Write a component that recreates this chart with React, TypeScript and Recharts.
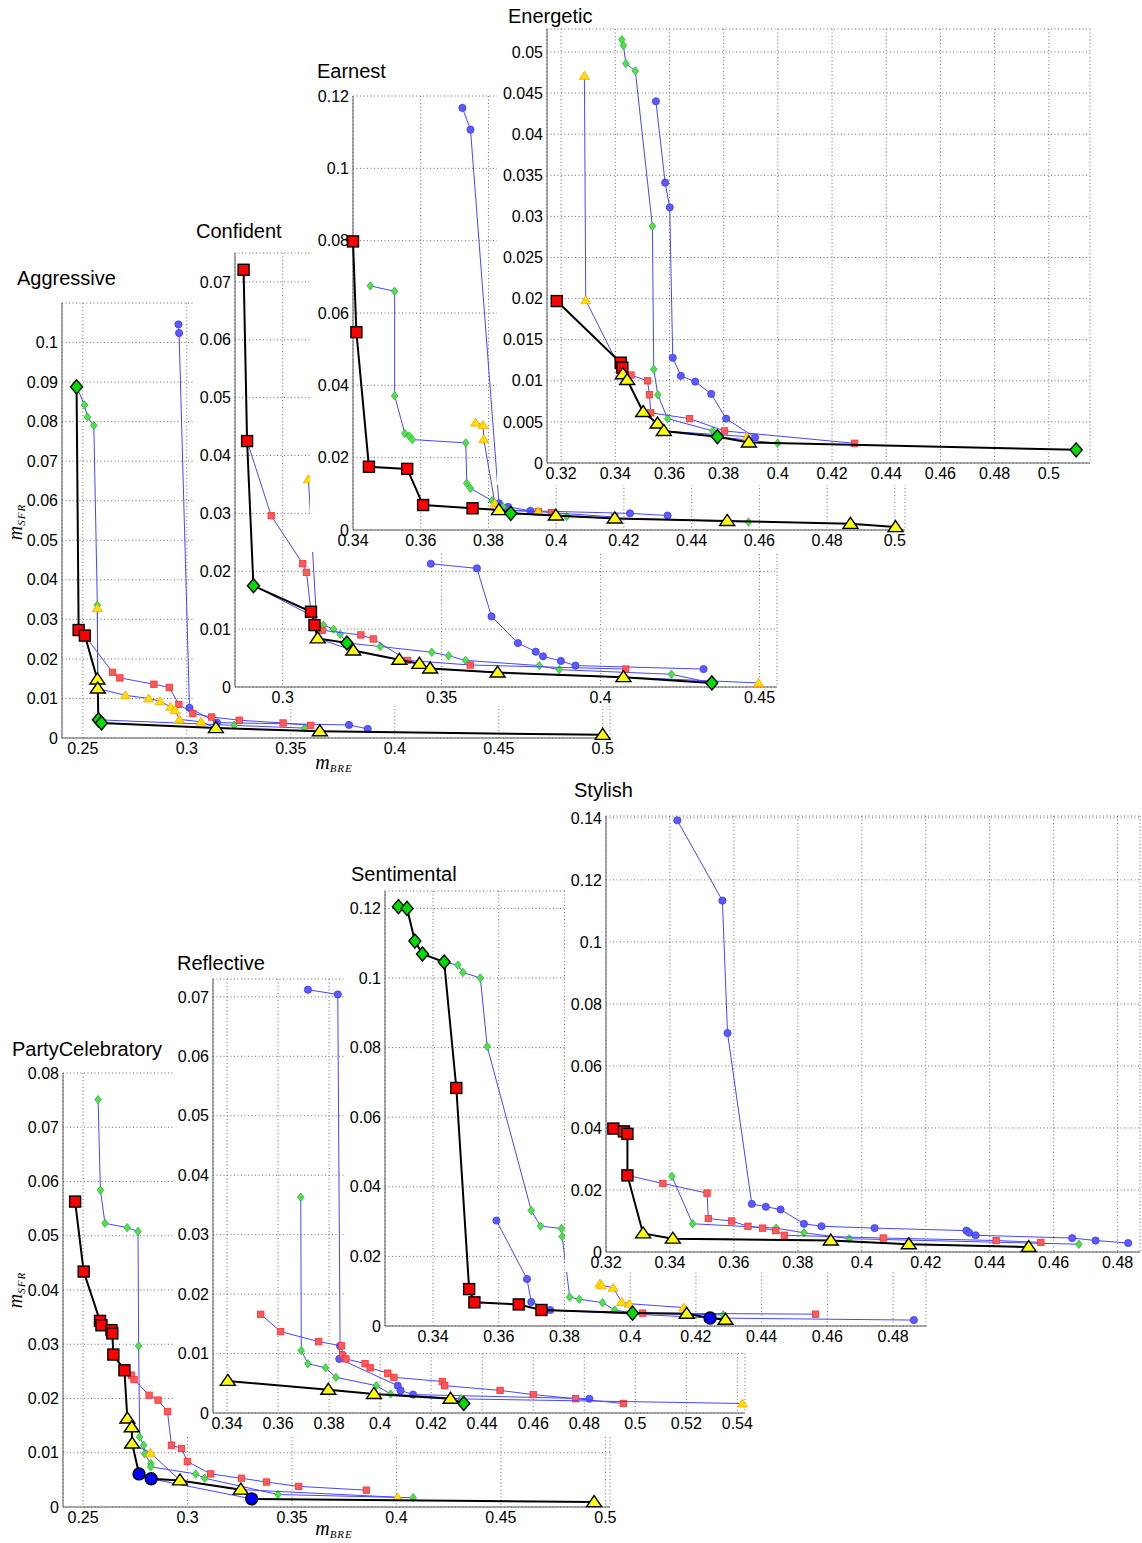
import React from "react";
import { CartesianGrid, Scatter, ScatterChart, XAxis, YAxis } from "recharts";

type Pt = [number, number];
type Kind = "s" | "d" | "t" | "c";
type FrontPt = [number, number, Kind];

// ---------- Aggressive ----------
const aggBlue: Pt[] = [[0.296, 0.1046], [0.2963, 0.1024], [0.3013, 0.0076], [0.3145, 0.0039], [0.378, 0.0033], [0.387, 0.0023]];
const aggGreen: Pt[] = [[0.247, 0.0888], [0.2508, 0.0842], [0.2522, 0.0812], [0.2553, 0.079], [0.257, 0.0336], [0.2572, 0.0125], [0.2575, 0.0046], [0.3228, 0.0032], [0.3567, 0.0025]];
const aggRed: Pt[] = [[0.251, 0.0259], [0.2643, 0.0166], [0.2678, 0.0152], [0.2842, 0.0136], [0.2916, 0.0128], [0.2962, 0.0085], [0.3029, 0.0062], [0.312, 0.0053], [0.3252, 0.0045], [0.3463, 0.0038], [0.3596, 0.0032]];
const aggYellow: Pt[] = [[0.257, 0.0328], [0.2572, 0.0125], [0.2705, 0.0108], [0.2817, 0.01], [0.2871, 0.0093], [0.2922, 0.0079], [0.2944, 0.007], [0.2965, 0.0047], [0.3069, 0.0041], [0.314, 0.0025]];
const aggFront: FrontPt[] = [[0.247, 0.0888, "d"], [0.248, 0.0273, "s"], [0.251, 0.0259, "s"], [0.257, 0.0148, "t"], [0.2572, 0.0125, "t"], [0.2575, 0.0046, "d"], [0.259, 0.0038, "d"], [0.314, 0.0025, "t"], [0.364, 0.0017, "t"], [0.5, 0.0008, "t"]];
const aggXTicks = [0.25, 0.3, 0.35, 0.4, 0.45, 0.5];
const aggYTicks = [0, 0.01, 0.02, 0.03, 0.04, 0.05, 0.06, 0.07, 0.08, 0.09, 0.1];

// ---------- Confident ----------
const confBlue: Pt[] = [[0.3466, 0.0213], [0.3611, 0.0205], [0.3657, 0.0122], [0.374, 0.0076], [0.3796, 0.0061], [0.3819, 0.0053], [0.3875, 0.0045], [0.3921, 0.0037], [0.4324, 0.0031]];
const confGreen: Pt[] = [[0.2908, 0.0175], [0.31, 0.0121], [0.3128, 0.0107], [0.316, 0.01], [0.3181, 0.0091], [0.3202, 0.0076], [0.3307, 0.007], [0.3469, 0.006], [0.3522, 0.0054], [0.3575, 0.0046], [0.3807, 0.0037], [0.387, 0.003], [0.4223, 0.0022], [0.435, 0.0007]];
const confRed: Pt[] = [[0.2888, 0.0425], [0.2964, 0.0296], [0.3063, 0.0213], [0.3075, 0.0198], [0.3089, 0.013], [0.3124, 0.0098], [0.3246, 0.009], [0.3285, 0.0083], [0.3393, 0.0046], [0.359, 0.0038], [0.4079, 0.0031]];
const confYellow: Pt[] = [[0.3081, 0.0359], [0.311, 0.0084], [0.3222, 0.0063], [0.3367, 0.0047], [0.343, 0.004], [0.3464, 0.0032], [0.3676, 0.0025], [0.4072, 0.0017], [0.4497, 0.0007]];
const confFront: FrontPt[] = [[0.2877, 0.0721, "s"], [0.2888, 0.0425, "s"], [0.2908, 0.0175, "d"], [0.3089, 0.013, "s"], [0.31, 0.0107, "s"], [0.311, 0.0084, "t"], [0.3202, 0.0076, "d"], [0.3222, 0.0063, "t"], [0.3367, 0.0047, "t"], [0.343, 0.004, "t"], [0.3464, 0.0032, "t"], [0.3676, 0.0025, "t"], [0.4072, 0.0017, "t"], [0.435, 0.0007, "d"]];
const confXTicks = [0.3, 0.35, 0.4, 0.45];
const confYTicks = [0, 0.01, 0.02, 0.03, 0.04, 0.05, 0.06, 0.07];

// ---------- Earnest ----------
const earBlue: Pt[] = [[0.3723, 0.1167], [0.3747, 0.1107], [0.3831, 0.0074], [0.3858, 0.0064], [0.3924, 0.0053], [0.4218, 0.0046], [0.4329, 0.004]];
const earGreen: Pt[] = [[0.3451, 0.0675], [0.3523, 0.066], [0.3523, 0.0371], [0.3553, 0.0267], [0.3566, 0.026], [0.3575, 0.025], [0.3733, 0.0241], [0.3736, 0.0129], [0.3747, 0.0115], [0.3811, 0.0081], [0.3843, 0.0064], [0.3866, 0.0046], [0.4031, 0.0037], [0.4568, 0.0022]];
const earRed: Pt[] = [[0.3753, 0.006], [0.3947, 0.0051], [0.3986, 0.0048], [0.4173, 0.0036]];
const earYellow: Pt[] = [[0.3762, 0.0297], [0.3784, 0.029], [0.3786, 0.0251], [0.3819, 0.0074], [0.3831, 0.0055], [0.3947, 0.0051]];
const earFront: FrontPt[] = [[0.34, 0.0798, "s"], [0.341, 0.0547, "s"], [0.3447, 0.0175, "s"], [0.356, 0.0169, "s"], [0.3607, 0.0069, "s"], [0.3753, 0.006, "s"], [0.3831, 0.0055, "t"], [0.3866, 0.0046, "d"], [0.3999, 0.004, "t"], [0.4173, 0.0032, "t"], [0.4505, 0.0025, "t"], [0.4869, 0.0017, "t"], [0.5002, 0.0008, "t"]];
const earXTicks = [0.34, 0.36, 0.38, 0.4, 0.42, 0.44, 0.46, 0.48, 0.5];
const earYTicks = [0, 0.02, 0.04, 0.06, 0.08, 0.1, 0.12];

// ---------- Energetic ----------
const eneBlue: Pt[] = [[0.355, 0.044], [0.3584, 0.0341], [0.3601, 0.0311], [0.3612, 0.0128], [0.3642, 0.0106], [0.3695, 0.0099], [0.3754, 0.0084], [0.3809, 0.0054], [0.3916, 0.0031]];
const eneGreen: Pt[] = [[0.3424, 0.0515], [0.343, 0.0508], [0.3439, 0.0486], [0.3474, 0.0477], [0.3537, 0.0288], [0.3542, 0.0114], [0.3557, 0.0083], [0.3593, 0.0054], [0.376, 0.0039], [0.3777, 0.0032], [0.3999, 0.0024]];
const eneRed: Pt[] = [[0.3426, 0.0116], [0.3458, 0.0107], [0.3519, 0.01], [0.3526, 0.0083], [0.3531, 0.0061], [0.3674, 0.0054], [0.3803, 0.0039], [0.4283, 0.0024]];
const eneYellow: Pt[] = [[0.3286, 0.0471], [0.3291, 0.0198], [0.3428, 0.0108], [0.3444, 0.0101], [0.3503, 0.0062], [0.3556, 0.0048], [0.3579, 0.0039], [0.3886, 0.0032]];
const eneFront: FrontPt[] = [[0.3184, 0.0197, "s"], [0.342, 0.0122, "s"], [0.3426, 0.0116, "s"], [0.3428, 0.0108, "t"], [0.3444, 0.0101, "t"], [0.3503, 0.0062, "t"], [0.3556, 0.0048, "t"], [0.3579, 0.0039, "t"], [0.3777, 0.0032, "d"], [0.3893, 0.0025, "t"], [0.5101, 0.0016, "d"]];
const eneXTicks = [0.32, 0.34, 0.36, 0.38, 0.4, 0.42, 0.44, 0.46, 0.48, 0.5];
const eneYTicks = [0, 0.005, 0.01, 0.015, 0.02, 0.025, 0.03, 0.035, 0.04, 0.045, 0.05];

// ---------- PartyCelebratory ----------
const partyBlue: Pt[] = [[0.2768, 0.0061], [0.2826, 0.0052], [0.3307, 0.0015]];
const partyGreen: Pt[] = [[0.2572, 0.0751], [0.2583, 0.0584], [0.2605, 0.0523], [0.2711, 0.0515], [0.2763, 0.0508], [0.2766, 0.0297], [0.2771, 0.0129], [0.279, 0.0114], [0.2795, 0.0098], [0.2824, 0.008], [0.2824, 0.0074], [0.3039, 0.0061], [0.3082, 0.0053], [0.3433, 0.0023], [0.408, 0.0017]];
const partyRed: Pt[] = [[0.2698, 0.0252], [0.2731, 0.0243], [0.2744, 0.0235], [0.2816, 0.0206], [0.2859, 0.0197], [0.2904, 0.0176], [0.2923, 0.0114], [0.2971, 0.0108], [0.2999, 0.0084], [0.3111, 0.0061], [0.3258, 0.0053], [0.3378, 0.0046], [0.3532, 0.0038], [0.3856, 0.0031]];
const partyYellow: Pt[] = [[0.2735, 0.0117], [0.2822, 0.01], [0.2964, 0.0049], [0.3255, 0.0032], [0.4005, 0.0018]];
const partyFront: FrontPt[] = [[0.2462, 0.0563, "s"], [0.2503, 0.0434, "s"], [0.2581, 0.0343, "s"], [0.2588, 0.0335, "s"], [0.2636, 0.0326, "s"], [0.264, 0.032, "s"], [0.2645, 0.0281, "s"], [0.2698, 0.0252, "s"], [0.2712, 0.0163, "t"], [0.2733, 0.0147, "t"], [0.2735, 0.0117, "t"], [0.2768, 0.0061, "c"], [0.2826, 0.0052, "c"], [0.2964, 0.0049, "t"], [0.3255, 0.0032, "t"], [0.3307, 0.0015, "c"], [0.4946, 0.0009, "t"]];
const partyXTicks = [0.25, 0.3, 0.35, 0.4, 0.45, 0.5];
const partyYTicks = [0, 0.01, 0.02, 0.03, 0.04, 0.05, 0.06, 0.07, 0.08];

// ---------- Reflective ----------
const refBlue: Pt[] = [[0.3717, 0.0712], [0.3834, 0.0704], [0.3843, 0.0113], [0.384, 0.0091], [0.4069, 0.0046], [0.408, 0.0038], [0.4129, 0.0031], [0.482, 0.0024]];
const refGreen: Pt[] = [[0.3689, 0.0363], [0.3691, 0.0105], [0.3717, 0.0083], [0.3786, 0.0076], [0.3827, 0.006], [0.3985, 0.0046], [0.4041, 0.0032], [0.4317, 0.0024], [0.4328, 0.0016]];
const refRed: Pt[] = [[0.3532, 0.0166], [0.361, 0.0137], [0.3759, 0.012], [0.3849, 0.0113], [0.3853, 0.0098], [0.3866, 0.0091], [0.3941, 0.0083], [0.3961, 0.0076], [0.403, 0.0067], [0.4054, 0.006], [0.4244, 0.0053], [0.4253, 0.0046], [0.447, 0.0038], [0.46, 0.0031], [0.4766, 0.0024], [0.4953, 0.0016]];
const refYellow: Pt[] = [[0.4276, 0.0024], [0.542, 0.0016]];
const refFront: FrontPt[] = [[0.3403, 0.0054, "t"], [0.3797, 0.0039, "t"], [0.3976, 0.0032, "t"], [0.4276, 0.0024, "t"], [0.4328, 0.0016, "d"]];
const refXTicks = [0.34, 0.36, 0.38, 0.4, 0.42, 0.44, 0.46, 0.48, 0.5, 0.52, 0.54];
const refYTicks = [0, 0.01, 0.02, 0.03, 0.04, 0.05, 0.06, 0.07];

// ---------- Sentimental ----------
const sentBlue: Pt[] = [[0.3593, 0.0303], [0.3686, 0.0135], [0.3699, 0.0069], [0.3757, 0.0046], [0.4243, 0.0023], [0.4863, 0.0017]];
const sentGreen: Pt[] = [[0.3434, 0.1046], [0.3476, 0.1037], [0.3491, 0.1016], [0.3544, 0.1], [0.3565, 0.0803], [0.3699, 0.0332], [0.3727, 0.0287], [0.3791, 0.028], [0.3793, 0.0257], [0.3816, 0.0083], [0.3845, 0.0077], [0.3916, 0.0067], [0.3953, 0.0046], [0.4007, 0.0037], [0.4283, 0.0032]];
const sentRed: Pt[] = [[0.373, 0.0046], [0.4038, 0.0037], [0.4564, 0.0034]];
const sentYellow: Pt[] = [[0.3908, 0.0122], [0.3913, 0.0117], [0.3948, 0.011], [0.3974, 0.0069], [0.3997, 0.0064], [0.4163, 0.0053], [0.4172, 0.0035]];
const sentFront: FrontPt[] = [[0.3295, 0.1205, "d"], [0.3321, 0.12, "d"], [0.3345, 0.1106, "d"], [0.3368, 0.1069, "d"], [0.3434, 0.1046, "d"], [0.3471, 0.0684, "s"], [0.351, 0.0106, "s"], [0.3526, 0.0068, "s"], [0.3661, 0.0062, "s"], [0.373, 0.0046, "s"], [0.4007, 0.0037, "d"], [0.4172, 0.0035, "t"], [0.4243, 0.0023, "c"], [0.429, 0.0018, "t"]];
const sentXTicks = [0.34, 0.36, 0.38, 0.4, 0.42, 0.44, 0.46, 0.48];
const sentYTicks = [0, 0.02, 0.04, 0.06, 0.08, 0.1, 0.12];

// ---------- Stylish ----------
const styBlue: Pt[] = [[0.3423, 0.1392], [0.3564, 0.1133], [0.358, 0.0706], [0.3656, 0.0155], [0.37, 0.0146], [0.3746, 0.0137], [0.3819, 0.0091], [0.3874, 0.0083], [0.404, 0.0077], [0.4327, 0.0069], [0.4336, 0.0062], [0.4356, 0.0054], [0.4658, 0.0045], [0.4731, 0.0037], [0.4833, 0.0029]];
const styGreen: Pt[] = [[0.3406, 0.0244], [0.3471, 0.0091], [0.3732, 0.0077], [0.3819, 0.0062], [0.3961, 0.0043], [0.4679, 0.0025]];
const styRed: Pt[] = [[0.3267, 0.0247], [0.3378, 0.0221], [0.3516, 0.019], [0.352, 0.0108], [0.3593, 0.01], [0.3644, 0.0083], [0.369, 0.0077], [0.3731, 0.0069], [0.3758, 0.0054], [0.4067, 0.0045], [0.442, 0.0037], [0.456, 0.0031]];
const styYellow: Pt[] = [[0.3316, 0.006], [0.3409, 0.0043], [0.3903, 0.0037], [0.4147, 0.0025], [0.4522, 0.0016]];
const styFront: FrontPt[] = [[0.3223, 0.0398, "s"], [0.3256, 0.0389, "s"], [0.3267, 0.0381, "s"], [0.3267, 0.0247, "s"], [0.3316, 0.006, "t"], [0.3409, 0.0043, "t"], [0.3903, 0.0037, "t"], [0.4147, 0.0025, "t"], [0.4522, 0.0016, "t"]];
const styXTicks = [0.32, 0.34, 0.36, 0.38, 0.4, 0.42, 0.44, 0.46, 0.48];
const styYTicks = [0, 0.02, 0.04, 0.06, 0.08, 0.1, 0.12, 0.14];

const FONT = "'Liberation Sans', Arial, Helvetica, sans-serif";
const SERIF = "'Liberation Serif', 'Times New Roman', serif";
const LINK = "#4646ff";

interface PanelSpec {
  title: string;
  titleAt: [number, number];
  box: [number, number, number, number];
  plot: [number, number, number, number];
  xDomain: [number, number];
  yDomain: [number, number];
  xTicks: number[];
  yTicks: number[];
  blue: Pt[];
  green: Pt[];
  red: Pt[];
  yellow: Pt[];
  front: FrontPt[];
}

const panels: PanelSpec[] = [
  { title: "Aggressive", titleAt: [17, 268], box: [0, 262, 620, 780], plot: [62, 303, 610, 738], xDomain: [0.24, 0.5035], yDomain: [0, 0.11], xTicks: aggXTicks, yTicks: aggYTicks, blue: aggBlue, green: aggGreen, red: aggRed, yellow: aggYellow, front: aggFront },
  { title: "Confident", titleAt: [196, 221], box: [193, 215, 790, 706], plot: [235, 253, 777, 687], xDomain: [0.285, 0.4555], yDomain: [0, 0.075], xTicks: confXTicks, yTicks: confYTicks, blue: confBlue, green: confGreen, red: confRed, yellow: confYellow, front: confFront },
  { title: "Earnest", titleAt: [317, 61], box: [310, 55, 915, 552], plot: [353, 96, 905, 530], xDomain: [0.34, 0.503], yDomain: [0, 0.12], xTicks: earXTicks, yTicks: earYTicks, blue: earBlue, green: earGreen, red: earRed, yellow: earYellow, front: earFront },
  { title: "Energetic", titleAt: [508, 6], box: [497, 0, 1100, 485], plot: [547, 29, 1090, 463], xDomain: [0.3148, 0.5152], yDomain: [0, 0.0528], xTicks: eneXTicks, yTicks: eneYTicks, blue: eneBlue, green: eneGreen, red: eneRed, yellow: eneYellow, front: eneFront },
  { title: "PartyCelebratory", titleAt: [12, 1039], box: [0, 1035, 620, 1543], plot: [63, 1073, 610, 1507], xDomain: [0.2404, 0.5022], yDomain: [0, 0.08], xTicks: partyXTicks, yTicks: partyYTicks, blue: partyBlue, green: partyGreen, red: partyRed, yellow: partyYellow, front: partyFront },
  { title: "Reflective", titleAt: [177, 953], box: [173, 945, 760, 1437], plot: [213, 979, 745, 1413], xDomain: [0.3345, 0.543], yDomain: [0, 0.073], xTicks: refXTicks, yTicks: refYTicks, blue: refBlue, green: refGreen, red: refRed, yellow: refYellow, front: refFront },
  { title: "Sentimental", titleAt: [351, 864], box: [345, 855, 935, 1352], plot: [385, 891, 926, 1326], xDomain: [0.3254, 0.49], yDomain: [0, 0.125], xTicks: sentXTicks, yTicks: sentYTicks, blue: sentBlue, green: sentGreen, red: sentRed, yellow: sentYellow, front: sentFront },
  { title: "Stylish", titleAt: [574, 780], box: [565, 775, 1142, 1272], plot: [606, 816, 1140, 1252], xDomain: [0.32, 0.487], yDomain: [0, 0.1406], xTicks: styXTicks, yTicks: styYTicks, blue: styBlue, green: styGreen, red: styRed, yellow: styYellow, front: styFront },
];

const SMALL: Record<Kind, { fill: string; stroke: string }> = {
  c: { fill: "#5a5aff", stroke: "#3d3df0" },
  d: { fill: "#4fe04f", stroke: "#2fb82f" },
  s: { fill: "#ff5a5a", stroke: "#ff2d2d" },
  t: { fill: "#ffe000", stroke: "#ffa200" },
};
const BIG: Record<Kind, string> = { c: "#0000ff", d: "#00dd00", s: "#ff0000", t: "#ffff00" };

function Mark({ kind, big, cx, cy }: { kind: Kind; big: boolean; cx?: number; cy?: number }) {
  if (cx == null || cy == null) return <g />;
  const fill = big ? BIG[kind] : SMALL[kind].fill;
  const stroke = big ? "#000" : SMALL[kind].stroke;
  const sw = big ? 1.4 : 0.8;
  if (kind === "c") {
    return <circle cx={cx} cy={cy} r={big ? 6 : 3.6} fill={fill} stroke={stroke} strokeWidth={sw} />;
  }
  if (kind === "s") {
    const h = big ? 5.5 : 3.2;
    return <rect x={cx - h} y={cy - h} width={2 * h} height={2 * h} fill={fill} stroke={stroke} strokeWidth={sw} />;
  }
  if (kind === "d") {
    const a = big ? 6 : 3.3;
    const b = big ? 7 : 4.2;
    return <polygon points={`${cx},${cy - b} ${cx + a},${cy} ${cx},${cy + b} ${cx - a},${cy}`} fill={fill} stroke={stroke} strokeWidth={sw} />;
  }
  const w = big ? 7.5 : 5;
  const up = big ? 6.5 : 4.5;
  const dn = big ? 4.5 : 3.5;
  return <polygon points={`${cx},${cy - up} ${cx + w},${cy + dn} ${cx - w},${cy + dn}`} fill={fill} stroke={stroke} strokeWidth={sw} strokeLinejoin="miter" />;
}

const smallShape = (kind: Kind) => (props: any) => <Mark kind={kind} big={false} cx={props.cx} cy={props.cy} />;
const frontShape = (props: any) => <Mark kind={props.payload.k} big cx={props.cx} cy={props.cy} />;

const rows = (pts: Pt[]) => pts.map(([x, y]) => ({ x, y }));
const frontRows = (pts: FrontPt[]) => pts.map(([x, y, k]) => ({ x, y, k }));

function Panel({ p }: { p: PanelSpec }) {
  const [bl, bt, br, bb] = p.box;
  const [pl, pt, pr, pb] = p.plot;
  const w = br - bl;
  const h = bb - bt;
  const tick = { fill: "#000", fontSize: 16, fontFamily: FONT };
  return (
    <div style={{ position: "absolute", left: bl, top: bt, width: w, height: h, background: "#fff" }}>
      <div style={{ position: "absolute", left: p.titleAt[0] - bl, top: p.titleAt[1] - bt, fontFamily: FONT, fontSize: 20, lineHeight: "20px", whiteSpace: "nowrap" }}>
        {p.title}
      </div>
      <ScatterChart width={w} height={h} margin={{ top: pt - bt, right: br - pr, left: 0, bottom: 0 }}>
        <CartesianGrid stroke="#6e6e6e" strokeDasharray="1 2.5" />
        <XAxis
          type="number"
          dataKey="x"
          domain={p.xDomain}
          ticks={p.xTicks}
          height={bb - pb}
          tick={tick}
          tickLine={false}
          tickSize={2}
          tickMargin={3}
          axisLine={{ stroke: "#5a5a5a" }}
          interval={0}
        />
        <YAxis
          type="number"
          dataKey="y"
          domain={p.yDomain}
          ticks={p.yTicks}
          width={pl - bl}
          tick={tick}
          tickLine={false}
          tickSize={2}
          tickMargin={2}
          axisLine={{ stroke: "#5a5a5a" }}
          interval={0}
        />
        <Scatter data={rows(p.blue)} line={{ stroke: LINK, strokeWidth: 1 }} shape={smallShape("c")} isAnimationActive={false} />
        <Scatter data={rows(p.green)} line={{ stroke: LINK, strokeWidth: 1 }} shape={smallShape("d")} isAnimationActive={false} />
        <Scatter data={rows(p.red)} line={{ stroke: LINK, strokeWidth: 1 }} shape={smallShape("s")} isAnimationActive={false} />
        <Scatter data={rows(p.yellow)} line={{ stroke: LINK, strokeWidth: 1 }} shape={smallShape("t")} isAnimationActive={false} />
        <Scatter data={frontRows(p.front)} line={{ stroke: "#000", strokeWidth: 2 }} shape={frontShape} isAnimationActive={false} />
      </ScatterChart>
    </div>
  );
}

function MSfr({ x, y }: { x: number; y: number }) {
  return (
    <div style={{ position: "absolute", left: x, top: y, transform: "translate(-50%, -50%) rotate(-90deg)", fontFamily: SERIF, fontStyle: "italic", fontSize: 20, whiteSpace: "nowrap", lineHeight: "20px" }}>
      m<span style={{ fontSize: 11, position: "relative", top: 3, letterSpacing: 1 }}>SFR</span>
    </div>
  );
}

function MBre({ x, y }: { x: number; y: number }) {
  return (
    <div style={{ position: "absolute", left: x, top: y, transform: "translate(-50%, -50%)", fontFamily: SERIF, fontStyle: "italic", fontSize: 20, whiteSpace: "nowrap", lineHeight: "20px" }}>
      m<span style={{ fontSize: 11, position: "relative", top: 3, letterSpacing: 1 }}>BRE</span>
    </div>
  );
}

export default function App() {
  return (
    <div style={{ position: "absolute", left: 0, top: 0, width: 1142, height: 1543, background: "#fff", overflow: "hidden" }}>
      <style>{"svg { overflow: visible; }"}</style>
      {panels.map((p) => (
        <Panel key={p.title} p={p} />
      ))}
      <MSfr x={16} y={522} />
      <MBre x={334} y={763} />
      <MSfr x={16} y={1290} />
      <MBre x={334} y={1529} />
    </div>
  );
}
